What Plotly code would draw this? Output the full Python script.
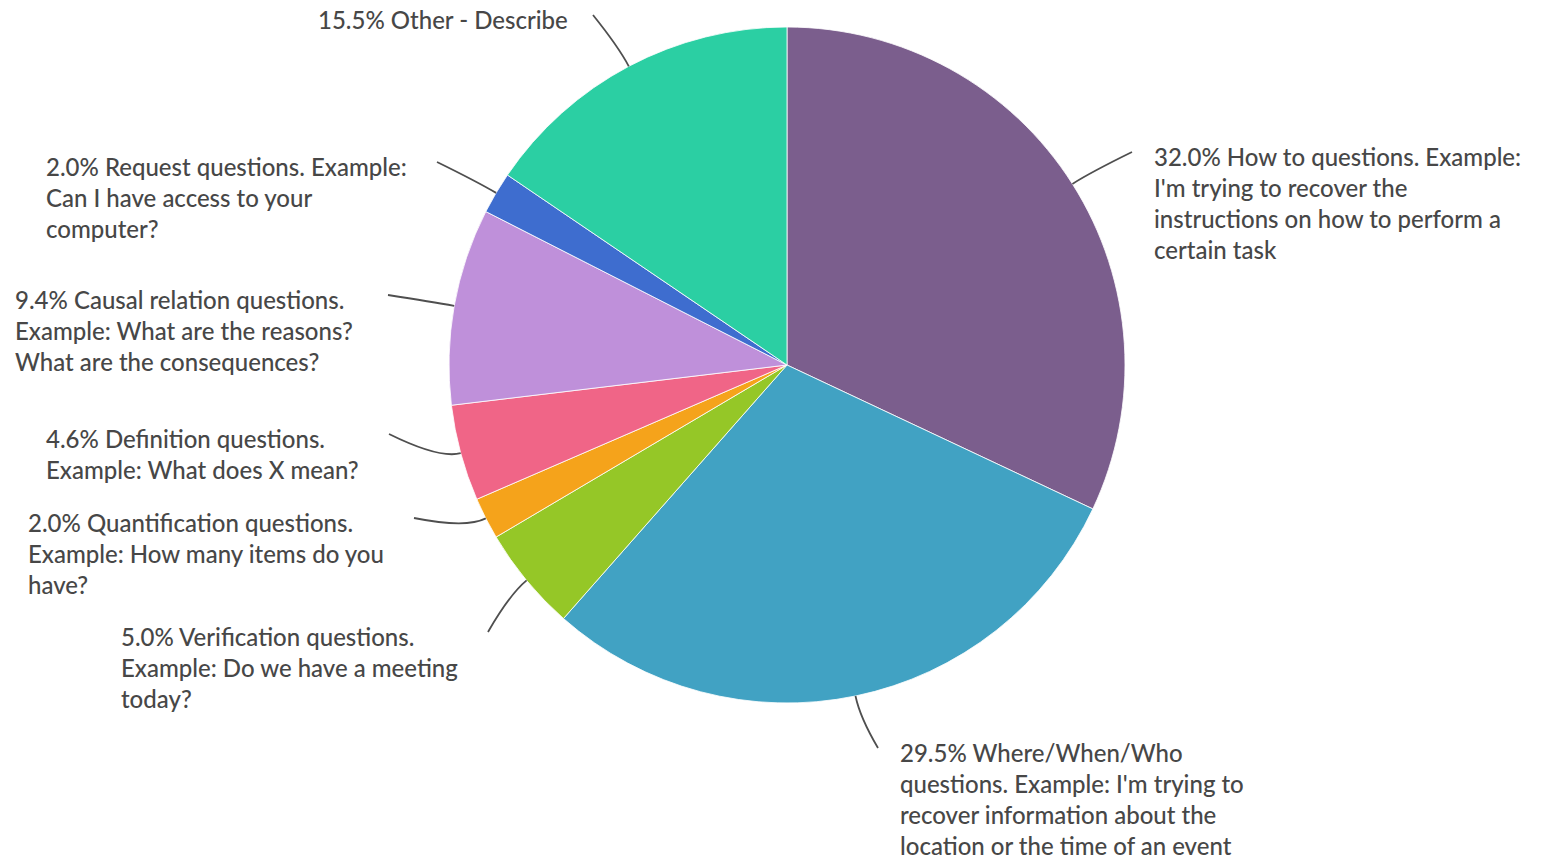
import math
import plotly.graph_objects as go

# Survey answers: share of question types (percent)
categories = [
    "How to questions",
    "Where/When/Who questions",
    "Verification questions",
    "Quantification questions",
    "Definition questions",
    "Causal relation questions",
    "Request questions",
    "Other - Describe",
]
values = [32.0, 29.5, 5.0, 2.0, 4.6, 9.4, 2.0, 15.5]
label_lines = [
    ["32.0% How to questions. Example:", "I'm trying to recover the",
     "instructions on how to perform a", "certain task"],
    ["29.5% Where/When/Who", "questions. Example: I'm trying to",
     "recover information about the", "location or the time of an event"],
    ["5.0% Verification questions.", "Example: Do we have a meeting", "today?"],
    ["2.0% Quantification questions.", "Example: How many items do you", "have?"],
    ["4.6% Definition questions.", "Example: What does X mean?"],
    ["9.4% Causal relation questions.", "Example: What are the reasons?",
     "What are the consequences?"],
    ["2.0% Request questions. Example:", "Can I have access to your", "computer?"],
    ["15.5% Other - Describe"],
]
colors = ["#7B5E8D", "#41A2C3", "#95C727", "#F5A31B",
          "#F06587", "#BF90DA", "#3E6DCF", "#2BCFA3"]

# Page geometry (pixels)
W, H = 1544, 859
CX, CY, R = 787, 365, 338

# Label layout: leader end point and left edge of the text block
leader_end = [(1132, 152), (878, 748), (488, 632), (414, 518),
              (389, 434), (388, 295), (437, 162), (593, 15)]
text_left = [1152, 898, 119, 26, 44, 13, 44, 316]
LINE_H = 31
FONT = "Lato, 'Open Sans', sans-serif"
TEXT_COLOR = "#474747"

fig = go.Figure()
fig.add_trace(go.Pie(
    labels=categories,
    values=values,
    sort=False,
    direction="clockwise",
    rotation=0,
    marker=dict(colors=colors, line=dict(color="rgba(255,255,255,0.8)", width=1)),
    textinfo="none",
    hoverinfo="label+percent",
    showlegend=False,
    domain=dict(x=[(CX - R) / W, (CX + R) / W], y=[1 - (CY + R) / H, 1 - (CY - R) / H]),
))

# Invisible pixel-space axes for leader lines and labels
fig.add_trace(go.Scatter(x=[0, W], y=[0, H], mode="markers",
                         marker=dict(opacity=0), hoverinfo="skip", showlegend=False))

total = sum(values)
cum = 0.0
shapes, annotations = [], []
for i, v in enumerate(values):
    mid = (cum + v / 2) / total * 2 * math.pi
    cum += v
    sx, sy = CX + R * math.sin(mid), CY - R * math.cos(mid)
    qx, qy = CX + (R + 22) * math.sin(mid), CY - (R + 22) * math.cos(mid)
    ex, ey = leader_end[i]
    shapes.append(dict(
        type="path", xref="x", yref="y",
        path=f"M {sx:.1f},{sy:.1f} Q {qx:.1f},{qy:.1f} {ex},{ey}",
        line=dict(color="#4F4F4F", width=1.8),
    ))
    for j, line in enumerate(label_lines[i]):
        annotations.append(dict(
            x=text_left[i], y=ey + 4 + j * LINE_H, xref="x", yref="y",
            text=line, showarrow=False, xanchor="left", yanchor="middle",
            font=dict(family=FONT, size=24, color=TEXT_COLOR, weight=500),
        ))

fig.update_layout(
    width=W, height=H,
    margin=dict(l=0, r=0, t=0, b=0),
    paper_bgcolor="white", plot_bgcolor="rgba(0,0,0,0)",
    xaxis=dict(range=[0, W], visible=False, domain=[0, 1], fixedrange=True),
    yaxis=dict(range=[H, 0], visible=False, domain=[0, 1], fixedrange=True),
    shapes=shapes,
    annotations=annotations,
)

fig.write_html("out.html")
